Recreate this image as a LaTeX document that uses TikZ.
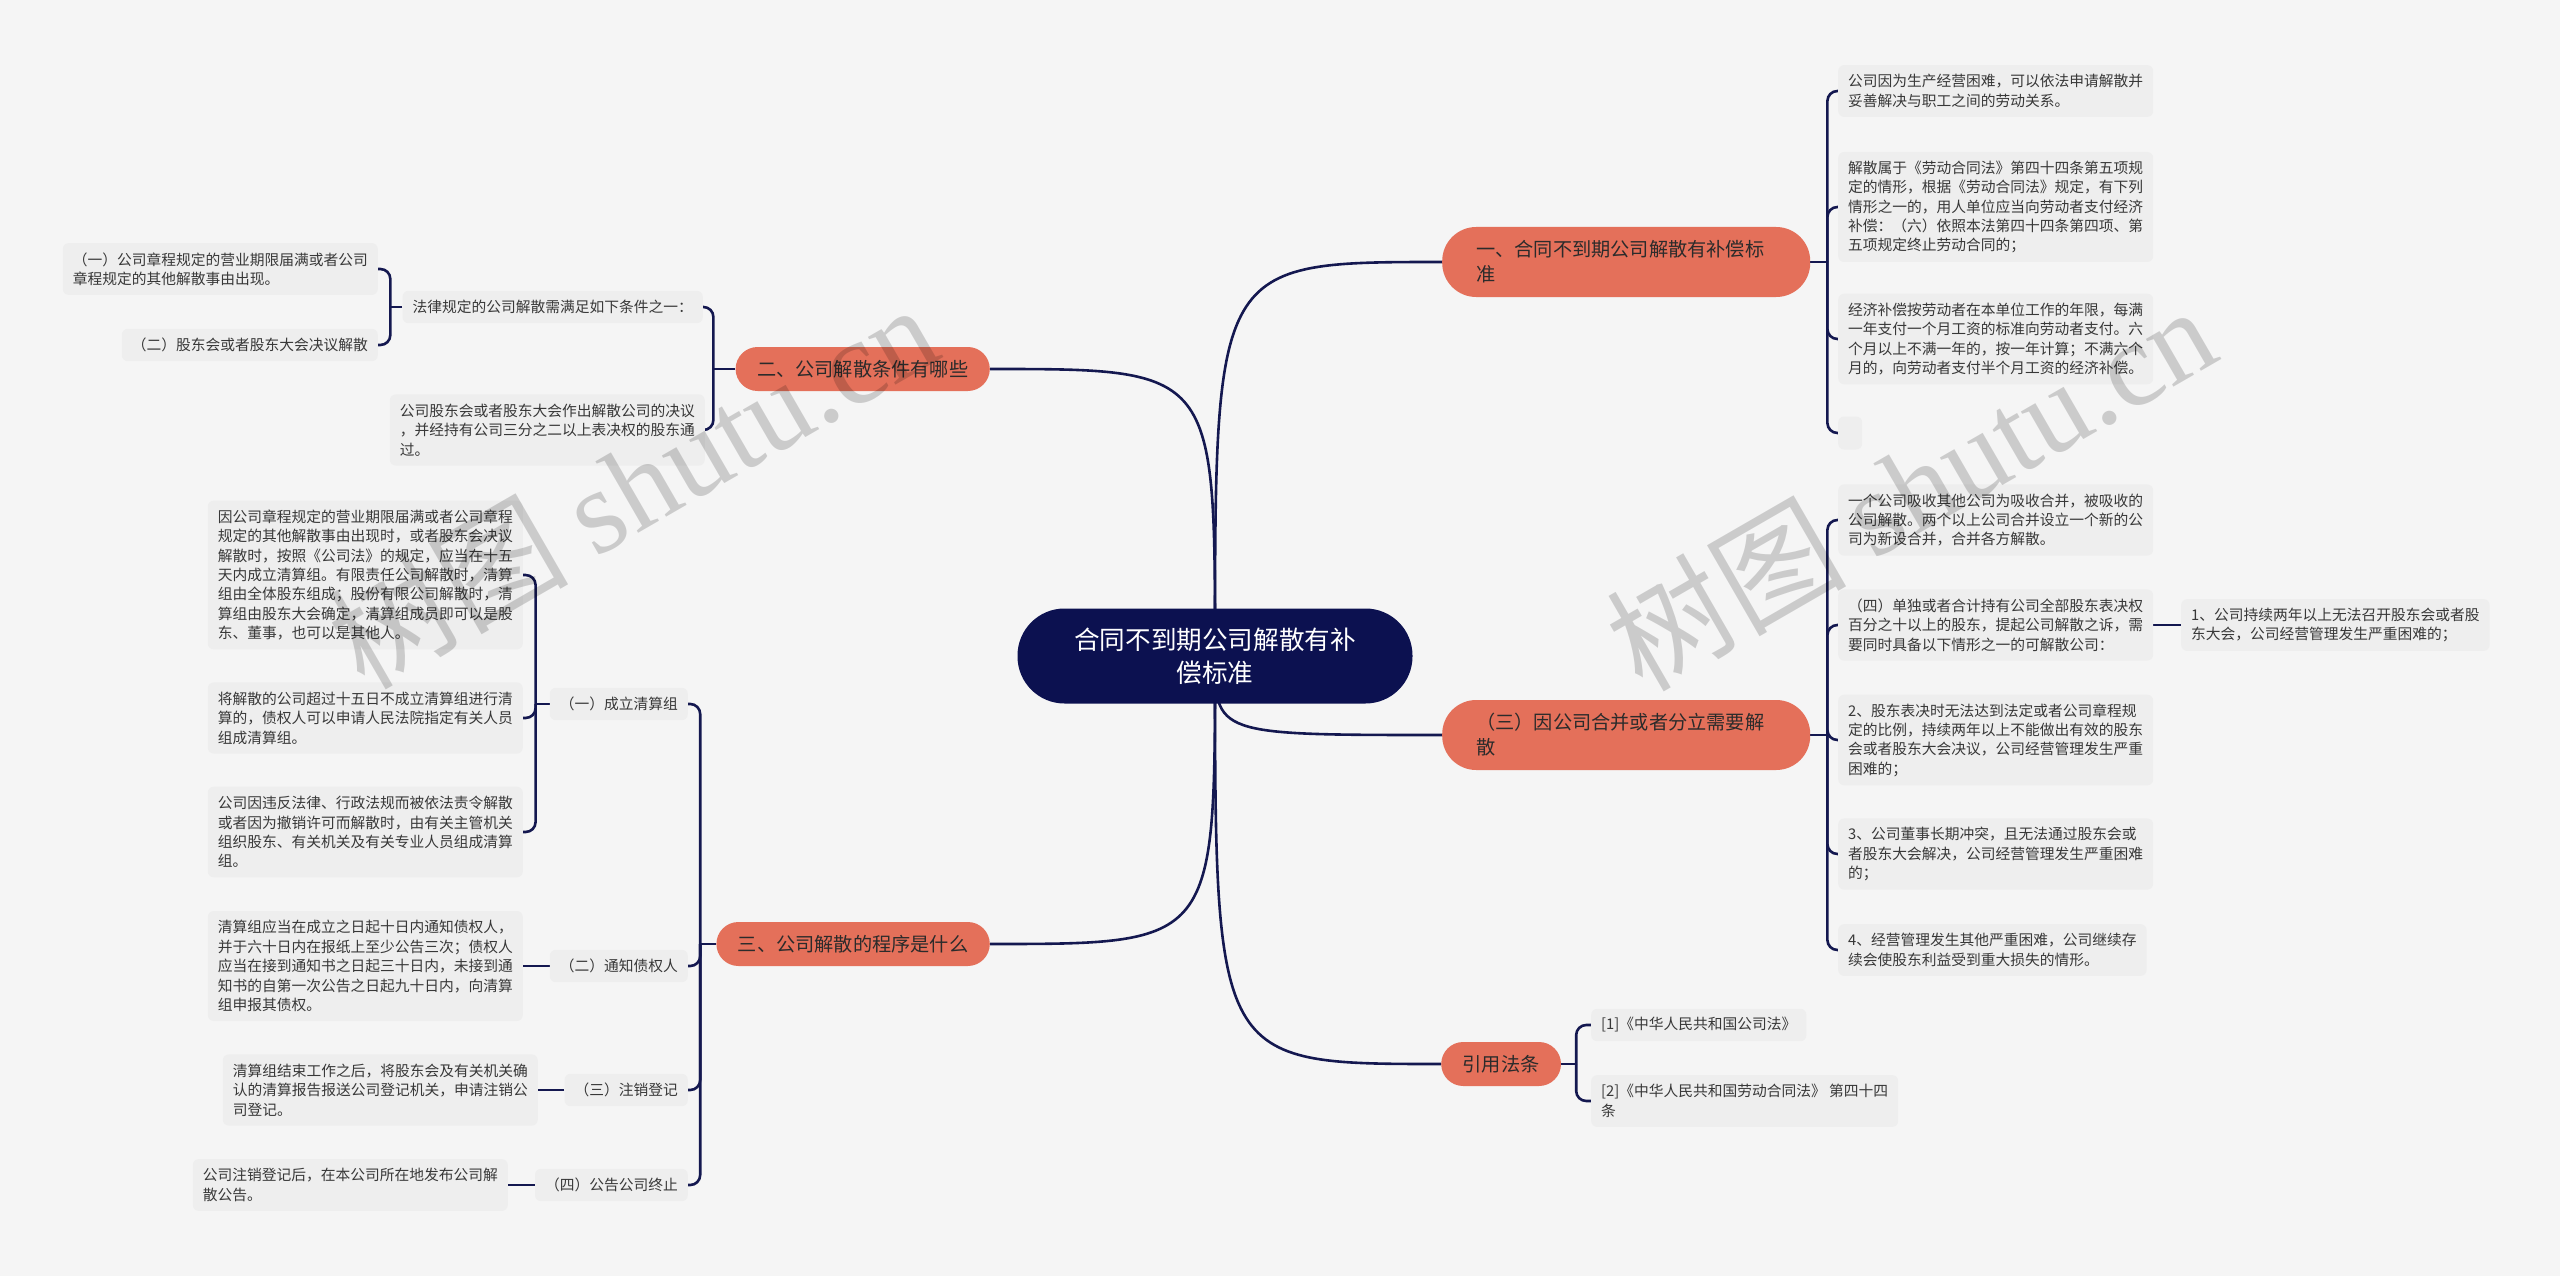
\documentclass[tikz,border=0pt]{standalone}
\usepackage{fontspec}
\setmainfont{Noto Sans CJK SC}
\newfontfamily\wmserif{Liberation Serif}
\usetikzlibrary{backgrounds}
\definecolor{bgcol}{HTML}{F5F5F5}
\definecolor{leafcol}{HTML}{EEEEEE}
\definecolor{leaftext}{HTML}{383838}
\definecolor{brcol}{HTML}{E4705A}
\definecolor{brtext}{HTML}{2B2B2B}
\definecolor{ccol}{HTML}{0C1150}
\definecolor{linecol}{HTML}{141850}
\newcommand\leaffont{\fontsize{14.75pt}{19.4pt}\selectfont}
\newcommand\brfont{\fontsize{19.2pt}{25pt}\selectfont}
\newcommand\ctrfont{\fontsize{25.6pt}{33pt}\selectfont}
\newcommand\wmfont{\fontsize{120pt}{120pt}\selectfont}
\tikzset{
  leaf/.style={fill=leafcol, rounded corners=6pt, inner xsep=10pt, inner ysep=3pt,
    align=left, font=\leaffont, text=leaftext, minimum height=#1*19.4pt+13pt},
  leaf/.default=1,
  branch/.style={fill=brcol, rounded corners=22pt, inner xsep=21.5pt, inner ysep=3pt,
    font=\brfont, text=brtext, minimum height=44pt},
  branchtwo/.style={branch, text width=300pt, align=left, inner xsep=34pt,
    minimum height=70pt, rounded corners=34pt},
  link/.style={draw=linecol, line width=2.6pt},
  brk/.style={link, rounded corners=10pt},
  wm/.style={font=\wmfont, text=black, text opacity=0.17, inner sep=0pt}
}
\begin{document}
\begin{tikzpicture}[x=1pt,y=-1pt]
\useasboundingbox (0,0) rectangle (2560,1276);

% centre
\node[fill=ccol, text=white, rounded corners=47pt, minimum width=395pt, minimum height=95pt,
  align=center, font=\ctrfont, inner sep=3pt] (c) at (1215,656) {合同不到期公司解散有补\\偿标准};

% branches
\node[branchtwo, anchor=west] (b1) at (1442,262) {一、合同不到期公司解散有补偿标\\准};
\node[branchtwo, anchor=west] (b3) at (1442,735) {（三）因公司合并或者分立需要解\\散};
\node[branch, anchor=west] (bf) at (1441,1064) {引用法条};
\node[branch, anchor=east] (b2) at (990,369) {二、公司解散条件有哪些};
\node[branch, anchor=east] (b3L) at (990,944) {三、公司解散的程序是什么};

% right leaves of b1
\node[leaf=2, anchor=west] (l1a) at (1838,91) {公司因为生产经营困难，可以依法申请解散并\\妥善解决与职工之间的劳动关系。};
\node[leaf=5, anchor=west] (l1b) at (1838,207) {解散属于《劳动合同法》第四十四条第五项规\\定的情形，根据《劳动合同法》规定，有下列\\情形之一的，用人单位应当向劳动者支付经济\\补偿：（六）依照本法第四十四条第四项、第\\五项规定终止劳动合同的；};
\node[leaf=4, anchor=west] (l1c) at (1838,339) {经济补偿按劳动者在本单位工作的年限，每满\\一年支付一个月工资的标准向劳动者支付。六\\个月以上不满一年的，按一年计算；不满六个\\月的，向劳动者支付半个月工资的经济补偿。};
\node[leaf, anchor=west, minimum width=24pt, minimum height=33pt] (l1d) at (1838,433) {};

% right leaves of b3
\node[leaf=3, anchor=west] (r1) at (1838,520) {一个公司吸收其他公司为吸收合并，被吸收的\\公司解散。两个以上公司合并设立一个新的公\\司为新设合并，合并各方解散。};
\node[leaf=3, anchor=west] (r2) at (1838,625) {（四）单独或者合计持有公司全部股东表决权\\百分之十以上的股东，提起公司解散之诉，需\\要同时具备以下情形之一的可解散公司：};
\node[leaf=2, anchor=west] (r2a) at (2181,625) {1、公司持续两年以上无法召开股东会或者股\\东大会，公司经营管理发生严重困难的；};
\node[leaf=4, anchor=west] (r3) at (1838,740) {2、股东表决时无法达到法定或者公司章程规\\定的比例，持续两年以上不能做出有效的股东\\会或者股东大会决议，公司经营管理发生严重\\困难的；};
\node[leaf=3, anchor=west] (r4) at (1838,854) {3、公司董事长期冲突，且无法通过股东会或\\者股东大会解决，公司经营管理发生严重困难\\的；};
\node[leaf=2, anchor=west] (r5) at (1838,950) {4、经营管理发生其他严重困难，公司继续存\\续会使股东利益受到重大损失的情形。};

% law refs
\node[leaf, anchor=west] (f1) at (1591,1025) {[1]《中华人民共和国公司法》};
\node[leaf=2, anchor=west] (f2) at (1591,1101) {[2]《中华人民共和国劳动合同法》 第四十四\\条};

% left: branch 2
\node[leaf, anchor=east] (p1) at (703,307) {法律规定的公司解散需满足如下条件之一：};
\node[leaf=3, anchor=east] (p2) at (705,430) {公司股东会或者股东大会作出解散公司的决议\\，并经持有公司三分之二以上表决权的股东通\\过。};
\node[leaf=2, anchor=east] (p1a) at (378,269) {（一）公司章程规定的营业期限届满或者公司\\章程规定的其他解散事由出现。};
\node[leaf, anchor=east] (p1b) at (378,345) {（二）股东会或者股东大会决议解散};

% left: branch 3
\node[leaf, anchor=east] (s1) at (688,704) {（一）成立清算组};
\node[leaf, anchor=east] (s2) at (688,966) {（二）通知债权人};
\node[leaf, anchor=east] (s3) at (688,1090) {（三）注销登记};
\node[leaf, anchor=east] (s4) at (688,1185) {（四）公告公司终止};

\node[leaf=7, anchor=east] (g1) at (523,575) {因公司章程规定的营业期限届满或者公司章程\\规定的其他解散事由出现时，或者股东会决议\\解散时，按照《公司法》的规定，应当在十五\\天内成立清算组。有限责任公司解散时，清算\\组由全体股东组成；股份有限公司解散时，清\\算组由股东大会确定，清算组成员即可以是股\\东、董事，也可以是其他人。};
\node[leaf=3, anchor=east] (g2) at (523,718) {将解散的公司超过十五日不成立清算组进行清\\算的，债权人可以申请人民法院指定有关人员\\组成清算组。};
\node[leaf=4, anchor=east] (g3) at (523,832) {公司因违反法律、行政法规而被依法责令解散\\或者因为撤销许可而解散时，由有关主管机关\\组织股东、有关机关及有关专业人员组成清算\\组。};
\node[leaf=5, anchor=east] (g4) at (523,966) {清算组应当在成立之日起十日内通知债权人，\\并于六十日内在报纸上至少公告三次；债权人\\应当在接到通知书之日起三十日内，未接到通\\知书的自第一次公告之日起九十日内，向清算\\组申报其债权。};
\node[leaf=3, anchor=east] (g5) at (538,1090) {清算组结束工作之后，将股东会及有关机关确\\认的清算报告报送公司登记机关，申请注销公\\司登记。};
\node[leaf=2, anchor=east] (g6) at (508,1185) {公司注销登记后，在本公司所在地发布公司解\\散公告。};

% junctions
\coordinate (j1) at ([xshift=17pt]b1.east);
\coordinate (j3) at ([xshift=17pt]b3.east);
\coordinate (jf) at ([xshift=15pt]bf.east);
\coordinate (j2) at ([xshift=-22pt]b2.west);
\coordinate (jp) at ([xshift=-12pt]p1.west);
\coordinate (j3L) at ([xshift=-16pt]b3L.west);
\coordinate (js) at ([xshift=-14pt]s1.west);

\begin{pgfonlayer}{background}
\fill[bgcol] (0,0) rectangle (2560,1276);
% centre curves
\draw[link] (c.center) .. controls (c.center |- b1.west) .. (b1.west);
\draw[link] (c.center) .. controls (c.center |- b3.west) .. (b3.west);
\draw[link] (c.center) .. controls (c.center |- bf.west) .. (bf.west);
\draw[link] (c.center) .. controls (c.center |- b2.east) .. (b2.east);
\draw[link] (c.center) .. controls (c.center |- b3L.east) .. (b3L.east);
% brackets
\draw[link] (b1.east) -- (j1);
\foreach \n in {l1a,l1b,l1c,l1d} \draw[brk] (j1) |- (\n.west);
\draw[link] (b3.east) -- (j3);
\foreach \n in {r1,r2,r3,r4,r5} \draw[brk] (j3) |- (\n.west);
\draw[link] (bf.east) -- (jf);
\foreach \n in {f1,f2} \draw[brk] (jf) |- (\n.west);
\draw[link] (b2.west) -- (j2);
\foreach \n in {p1,p2} \draw[brk] (j2) |- (\n.east);
\draw[link] (p1.west) -- (jp);
\foreach \n in {p1a,p1b} \draw[brk] (jp) |- (\n.east);
\draw[link] (b3L.west) -- (j3L);
\foreach \n in {s1,s2,s3,s4} \draw[brk] (j3L) |- (\n.east);
\draw[link] (s1.west) -- (js);
\foreach \n in {g1,g2,g3} \draw[brk] (js) |- (\n.east);
% straight links
\draw[link] (r2.east) -- (r2a.west);
\draw[link] (s2.west) -- (g4.east);
\draw[link] (s3.west) -- (g5.east);
\draw[link] (s4.west) -- (g6.east);
\end{pgfonlayer}

% watermarks
\node[wm, rotate=30, anchor=base] (wm1) at (655,524) {树图 {\wmserif shutu.cn}};
\node[wm, rotate=30, anchor=base] (wm2) at (1933,526) {树图 {\wmserif shutu.cn}};
\end{tikzpicture}
\end{document}
